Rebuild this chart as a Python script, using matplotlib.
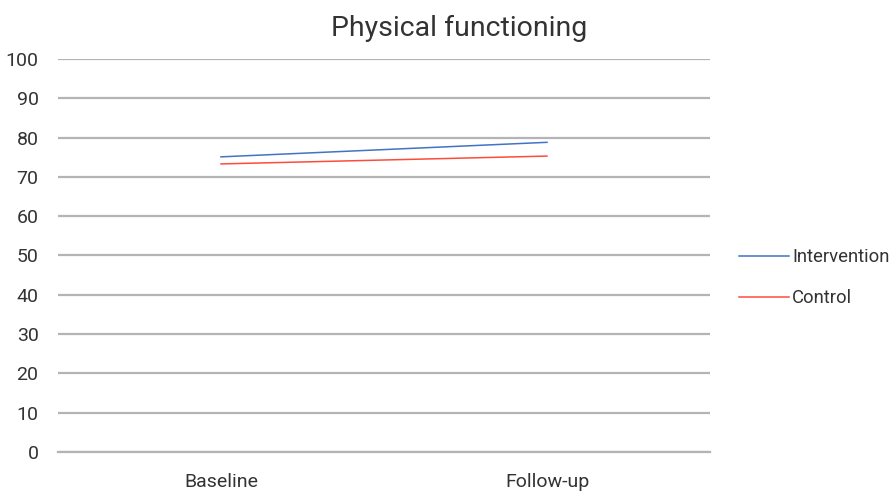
import matplotlib
matplotlib.use('Agg')
import matplotlib.pyplot as plt

# Data
categories = ['Baseline', 'Follow-up']
intervention = [75.1, 78.8]
control = [73.3, 75.3]
yticks = list(range(0, 101, 10))

plt.rcParams['font.family'] = ['Roboto', 'DejaVu Sans']

fig = plt.figure(figsize=(8.95, 4.95), dpi=100)
ax = fig.add_axes([0.0648, 0.0869, 0.7285, 0.7939])

x = range(len(categories))
ax.plot(x, intervention, color='#4472C4', lw=1.1, label='Intervention')
ax.plot(x, control, color='#FF4B3A', lw=1.1, label='Control')

ax.set_xlim(-0.5, 1.5)
ax.set_ylim(0, 100)
ax.set_yticks(yticks)
ax.set_xticks(list(x))
ax.set_xticklabels(categories)
ax.yaxis.grid(True, color='#B4B4B4', lw=1.6)
ax.set_axisbelow(True)
for s in ['top', 'right', 'left']:
    ax.spines[s].set_visible(False)
ax.spines['bottom'].set_color('#B4B4B4')
ax.spines['bottom'].set_linewidth(1.6)
ax.tick_params(length=0, labelsize=14, colors='#333333')
ax.tick_params(axis='y', pad=14)
ax.tick_params(axis='x', pad=15)

fig.text(0.513, 0.943, 'Physical functioning', ha='center', va='center',
         fontsize=20.5, color='#333333')

ax.legend(loc='center left', bbox_to_anchor=(1.044, 0.443), frameon=False,
          fontsize=13.3, handlelength=2.7, handletextpad=0.2, labelspacing=1.25,
          borderpad=0, borderaxespad=0, labelcolor='#333333')

plt.savefig('out.png', dpi=100)
